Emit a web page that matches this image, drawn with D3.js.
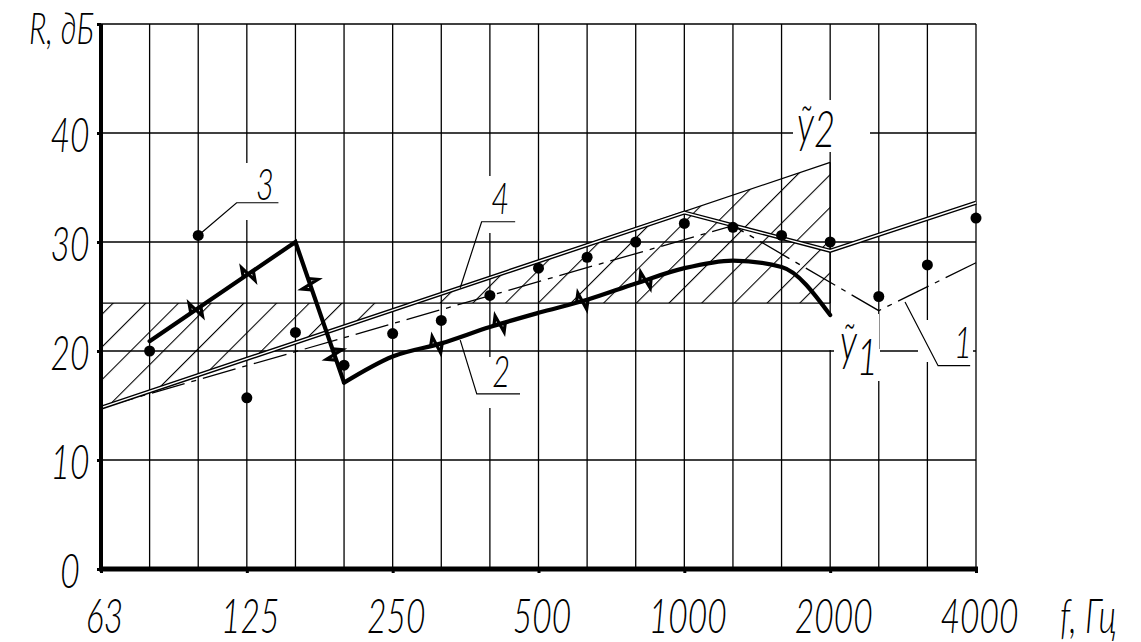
<!DOCTYPE html>
<html><head><meta charset="utf-8">
<script src="https://cdn.jsdelivr.net/npm/d3@7"></script>
<style>
html,body{margin:0;padding:0;background:#fff;}
svg{display:block;}
text{font-family:Lato,"Open Sans","DejaVu Sans",sans-serif;font-style:italic;font-weight:300;fill:#000;}
</style></head><body>
<svg id="chart" width="1141" height="642"></svg>
<script>
// ---------- data ----------
const bands = ["63","80","100","125","160","200","250","315","400","500","630","800","1000","1250","1600","2000","2500","3150","4000"];
const xTickLabels = ["63","125","250","500","1000","2000","4000"];
const yTickValues = [0,10,20,30,40,50];
const measuredBands = ["80","100","125","160","200","250","315","400","500","630","800","1000","1250","1600","2000","2500","3150","4000"];
const measuredR = [20.0,30.6,15.7,21.7,18.7,21.6,22.8,25.1,27.6,28.6,30.0,31.7,31.35,30.6,30.0,25.0,27.9,32.2];
const curve3Bands = ["80","160","200"];
const curve3R = [20.9,30.0,17.1];
const curve2Bands = ["200","250","315","400","500","630","800","1000","1250","1600","2000"];
const curve2R = [17.1,19.5,20.7,22.2,23.5,24.7,26.2,27.6,28.3,27.7,23.3];
const curve1Bands = ["63","1250","2500","4000"];
const curve1R = [14.8,31.5,23.7,28.1];
const curve4Bands = ["63","1000","2000","4000"];
const curve4R = [14.8,32.7,29.2,33.6];
const y2Bands = ["63","2000"];
const y2R = [14.8,37.3];
const normBands = ["63","2000"];
const normR = [24.4,24.4];
const breakPositions = [1.95,3.03,4.3,4.8,6.9,8.2,9.9,11.2]; // band steps along thick curve

// ---------- scales ----------
const svg = d3.select("#chart");
const x = d3.scalePoint().domain(bands).range([101,976]);
const xf = d3.scaleLinear().domain([0,bands.length-1]).range(x.range());
const y = d3.scaleLinear().domain([0,50]).range([569,24]);
const bi = b => bands.indexOf(b);
const FS = 48, SX = 0.7;

const defs = svg.append("defs");
const pat = defs.append("pattern").attr("id","hatch").attr("patternUnits","userSpaceOnUse")
  .attr("width",23.12).attr("height",23.12).attr("patternTransform","rotate(45)");
pat.append("line").attr("x1",16.9).attr("x2",16.9).attr("y1",-1).attr("y2",25)
  .attr("stroke","#000").attr("stroke-width",1.1);

// ---------- grid ----------
const grid = svg.append("g").attr("stroke","#000").attr("stroke-width",1.3);
grid.selectAll("line.v").data(bands.slice(1)).join("line")
  .attr("x1",d=>x(d)).attr("x2",d=>x(d)).attr("y1",y(50)).attr("y2",y(0));
grid.selectAll("line.h").data([10,20,30,40,50]).join("line")
  .attr("x1",x(bands[0])).attr("x2",x(bands[bands.length-1])).attr("y1",d=>y(d)).attr("y2",d=>y(d));

// label masks (white gaps in the grid behind annotations)
const masks = [[236,163,44,57],[476,176,42,57],[476,357,45,51],[918,320,55,42],[793,100,77,52],[829,314,50,36],[834,349,46,32]];
svg.append("g").selectAll("rect").data(masks).join("rect")
  .attr("x",d=>d[0]).attr("y",d=>d[1]).attr("width",d=>d[2]).attr("height",d=>d[3]).attr("fill","#fff");

// ---------- hatched deviation area ----------
const a = y2R[0], b = y2R[1], i0 = bi(y2Bands[0]), i1 = bi(y2Bands[1]);
const nv = normR[0];
const ic = i0 + (nv - a)/(b - a)*(i1 - i0);
const lineF = d3.line().x(d=>xf(d[0])).y(d=>y(d[1]));
svg.append("path").attr("d", lineF([[i0,a],[i0,nv],[ic,nv]]) + "Z" + lineF([[ic,nv],[i1,nv],[i1,b]]) + "Z")
  .attr("fill","url(#hatch)").attr("stroke","none");
svg.append("path").attr("d", d3.line().x(d=>x(d[0])).y(d=>y(d[1]))(normBands.map((f,k)=>[f,normR[k]])))
  .attr("fill","none").attr("stroke","#000").attr("stroke-width",1.3);
svg.append("line").attr("x1",x(y2Bands[1])).attr("x2",x(y2Bands[1])).attr("y1",y(nv)).attr("y2",y(b))
  .attr("stroke","#000").attr("stroke-width",1.3);

// ---------- lines ----------
const lineB = d3.line().x(d=>x(d[0])).y(d=>y(d[1]));
const zip = (fs,vs) => fs.map((f,k)=>[f,vs[k]]);
svg.append("path").attr("d",lineB(zip(y2Bands,y2R))).attr("fill","none").attr("stroke","#000").attr("stroke-width",1.3);
svg.append("path").attr("d",lineB(zip(curve1Bands,curve1R))).attr("fill","none").attr("stroke","#000")
  .attr("stroke-width",1.3).attr("stroke-dasharray","34,7,5,7");
const d4 = lineB(zip(curve4Bands,curve4R));
svg.append("path").attr("d",d4).attr("fill","none").attr("stroke","#000").attr("stroke-width",4.2);
svg.append("path").attr("d",d4).attr("fill","none").attr("stroke","#fff").attr("stroke-width",1.4);

const p3 = svg.append("path").attr("d",lineB(zip(curve3Bands,curve3R))).attr("fill","none")
  .attr("stroke","#000").attr("stroke-width",4.2).attr("stroke-linejoin","miter").attr("stroke-linecap","round");
const p2 = svg.append("path").attr("d",d3.line().x(d=>x(d[0])).y(d=>y(d[1])).curve(d3.curveMonotoneX)(zip(curve2Bands,curve2R)))
  .attr("fill","none").attr("stroke","#000").attr("stroke-width",4.2).attr("stroke-linecap","round");

// break marks
function lenAtX(node, tx){
  let lo=0, hi=node.getTotalLength();
  for(let k=0;k<40;k++){ const m=(lo+hi)/2; if(node.getPointAtLength(m).x<tx) lo=m; else hi=m; }
  return (lo+hi)/2;
}
const zz = [[-6,0],[-2,-9],[2,9],[6,0]];
breakPositions.forEach(bp=>{
  const node = bp <= bi(curve3Bands[curve3Bands.length-1]) ? p3.node() : p2.node();
  const L = lenAtX(node, xf(bp));
  const P = node.getPointAtLength(L);
  const A = node.getPointAtLength(Math.max(0,L-3)), B = node.getPointAtLength(Math.min(node.getTotalLength(),L+3));
  let ux=B.x-A.x, uy=B.y-A.y; const m=Math.hypot(ux,uy); ux/=m; uy/=m;
  const nx=-uy, ny=ux;
  const pts = zz.map(([s,t])=>[P.x+ux*s+nx*t, P.y+uy*s+ny*t]);
  svg.append("path").attr("d",d3.line()(pts)).attr("fill","none").attr("stroke","#000")
    .attr("stroke-width",3.2).attr("stroke-linejoin","miter");
});

// measured points
svg.append("g").selectAll("circle").data(zip(measuredBands,measuredR)).join("circle")
  .attr("cx",d=>x(d[0])).attr("cy",d=>y(d[1])).attr("r",5.5).attr("fill","#000");

// ---------- leaders & annotation labels ----------
const leaders = [
  [[2,30.6],[2.79,33.6],[3.65,33.6]],
  [[7.39,25.8],[7.83,31.86],[8.52,31.86]],
  [[7.39,21.0],[7.73,16.06],[8.62,16.06]],
  [[16.54,24.5],[17.22,18.65],[17.88,18.65]]
];
svg.append("g").selectAll("path").data(leaders).join("path")
  .attr("d",d=>lineF(d)).attr("fill","none").attr("stroke","#000").attr("stroke-width",1.2);

function label(txt, px, py, anchor, fs){
  return svg.append("text").attr("transform",`translate(${px},${py}) scale(${SX},1)`)
    .attr("text-anchor",anchor).attr("font-size",fs||FS).text(txt);
}
label("3", xf(3.37), y(33.85), "middle", 44);
label("4", xf(8.21), y(32.57), "middle", 44);
label("2", xf(8.23), y(16.7), "middle", 44);
label("1", xf(17.73), y(19.36), "middle", 44);
const t2 = label("", xf(14.32), y(38.7), "start", 52);
t2.append("tspan").attr("dy",-5).text("ỹ"); t2.append("tspan").attr("dy",5).text("2");
const t1 = label("", xf(15.2), y(19.2), "start", 52);
t1.append("tspan").text("ỹ"); t1.append("tspan").attr("dy",15).text("1");

// ---------- axes ----------
const gx = svg.append("g").attr("transform",`translate(0,${y(0)})`)
  .call(d3.axisBottom(x).tickValues(xTickLabels).tickSize(4).tickSizeOuter(0));
gx.attr("font-size",FS).attr("font-family",null);
gx.select(".domain").attr("stroke-width",5).attr("d",`M${x(bands[0])-2},0H${x(bands[bands.length-1])+2}`);
gx.selectAll(".tick line").attr("stroke-width",3);
gx.selectAll(".tick text").attr("y",0).attr("dy",0).attr("fill","#000")
  .attr("transform",`translate(3,64) scale(${SX},1)`);

const gy = svg.append("g").attr("transform",`translate(${x(bands[0])},0)`)
  .call(d3.axisLeft(y).tickValues(yTickValues).tickSize(4).tickSizeOuter(0).tickFormat(d=>d===50?"":d));
gy.attr("font-size",FS).attr("font-family",null);
gy.select(".domain").attr("stroke-width",4).attr("d",`M0,${y(50)}V${y(0)}`);
gy.selectAll(".tick line").attr("stroke-width",3);
gy.selectAll(".tick text").attr("x",0).attr("dy",0).attr("text-anchor","middle").attr("fill","#000")
  .attr("transform",`translate(-31,18) scale(${SX},1)`);

label("R, дБ", 94, 44, "end", 44);
label("f, Гц", 1060, 633, "start");
</script>
</body></html>
